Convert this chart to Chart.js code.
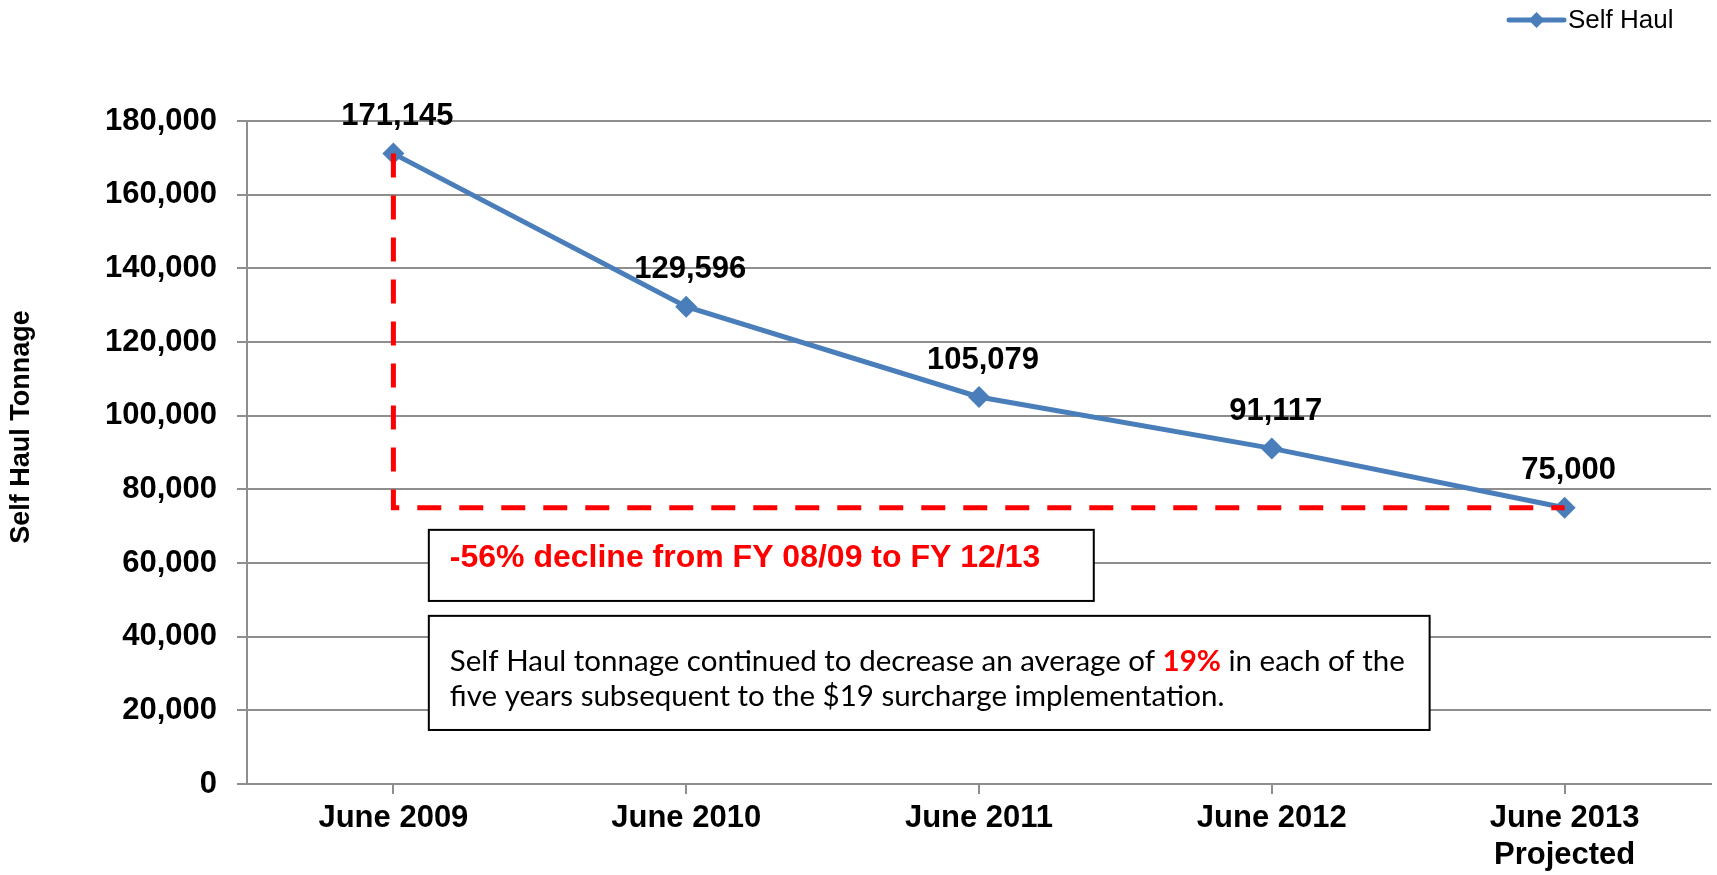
<!DOCTYPE html>
<html>
<head>
<meta charset="utf-8">
<script src="https://cdn.jsdelivr.net/npm/chart.js@4.4.1/dist/chart.umd.min.js"></script>
<style>
  html, body { margin: 0; padding: 0; background: #ffffff; }
  canvas { display: block; }
</style>
</head>
<body>
<canvas id="chart" width="1717" height="875"></canvas>
<script>
// ---- data ----
const categories = ['June 2009', 'June 2010', 'June 2011', 'June 2012', ['June 2013', 'Projected']];
const selfHaul = [171145, 129596, 105079, 91117, 75000];
const seriesName = 'Self Haul';
const yAxisTitle = 'Self Haul Tonnage';
const yMin = 0;
const yMax = 180000;
const yStep = 20000;
const declineText = '-56% decline from FY 08/09 to FY 12/13';
const noteLine1 = [
  { text: 'Self Haul tonnage continued to decrease an average of ', red: false },
  { text: '19%', red: true },
  { text: ' in each of the', red: false }
];
const noteLine2 = [
  { text: 'five years subsequent to the $19 surcharge implementation.', red: false }
];

// red bracket from the first value down to the last value level, across to the last point
const firstIdx = 0;
const lastIdx = selfHaul.length - 1;
const bracket = [
  { x: categories[firstIdx], y: selfHaul[firstIdx] },
  { x: categories[firstIdx], y: selfHaul[lastIdx] },
  { x: categories[lastIdx], y: selfHaul[lastIdx] }
];

// annotation boxes, in axis units (category index, tonnage)
const box1 = { x0: 0.121, x1: 2.392, yTop: 69000, yBot: 49700 };
const box2 = { x0: 0.121, x1: 3.539, yTop: 45650, yBot: 14670 };

const BLUE = '#4A7EBB';
const RED = '#FF0000';
const GRID = '#8e8e8e';
const FONT = "'Liberation Sans', Arial, sans-serif";

const fmt = v => v.toLocaleString('en-US');

const decorPlugin = {
  id: 'decor',
  afterDatasetsDraw(chart) {
    const ctx = chart.ctx;
    const meta = chart.getDatasetMeta(1);
    ctx.save();
    ctx.fillStyle = '#000';
    ctx.font = 'bold 31px ' + FONT;
    ctx.textAlign = 'center';
    ctx.textBaseline = 'middle';
    meta.data.forEach((pt, i) => {
      ctx.fillText(fmt(selfHaul[i]), pt.x + 4, pt.y - 37);
    });
    ctx.restore();
  },
  afterDraw(chart) {
    const ctx = chart.ctx;
    const xs = chart.scales.x, ys = chart.scales.y;
    const rect = b => {
      const l = xs.getPixelForValue(b.x0), r = xs.getPixelForValue(b.x1);
      const t = ys.getPixelForValue(b.yTop), bt = ys.getPixelForValue(b.yBot);
      return { l, r, t, b: bt };
    };
    ctx.save();
    // box 1
    const r1 = rect(box1);
    ctx.fillStyle = '#fff';
    ctx.fillRect(r1.l, r1.t, r1.r - r1.l, r1.b - r1.t);
    ctx.lineWidth = 2;
    ctx.strokeStyle = '#000';
    ctx.strokeRect(r1.l, r1.t, r1.r - r1.l, r1.b - r1.t);
    ctx.fillStyle = RED;
    ctx.font = 'bold 32px ' + FONT;
    ctx.textAlign = 'left';
    ctx.textBaseline = 'middle';
    ctx.fillText(declineText, r1.l + 21, (r1.t + r1.b) / 2 - 7);

    // box 2
    const r2 = rect(box2);
    ctx.fillStyle = '#fff';
    ctx.fillRect(r2.l, r2.t, r2.r - r2.l, r2.b - r2.t);
    ctx.strokeRect(r2.l, r2.t, r2.r - r2.l, r2.b - r2.t);
    const normFont = "28px Lato, 'Open Sans', sans-serif";
    const boldFont = "bold 28px Lato, 'Open Sans', sans-serif";
    const measure = segs => segs.reduce((w, s) => { ctx.font = s.red ? boldFont : normFont; return w + ctx.measureText(s.text).width; }, 0);
    const w1 = measure(noteLine1);
    const sx = 955 / w1;
    const drawLine = (segs, x, y) => {
      ctx.save();
      ctx.translate(x, y);
      ctx.scale(sx, 1);
      let cx = 0;
      segs.forEach(s => {
        ctx.font = s.red ? boldFont : normFont;
        ctx.fillStyle = s.red ? RED : '#000';
        ctx.fillText(s.text, cx, 0);
        cx += ctx.measureText(s.text).width;
      });
      ctx.restore();
    };
    ctx.textBaseline = 'middle';
    ctx.textAlign = 'left';
    drawLine(noteLine1, r2.l + 21, r2.t + 46);
    drawLine(noteLine2, r2.l + 21, r2.t + 81);

    // y axis title
    ctx.save();
    ctx.translate(22, 427);
    ctx.rotate(-Math.PI / 2);
    ctx.font = 'bold 27px ' + FONT;
    ctx.fillStyle = '#000';
    ctx.textAlign = 'center';
    ctx.textBaseline = 'middle';
    ctx.fillText(yAxisTitle, 0, 0);
    ctx.restore();

    // legend
    const lx0 = 1509, lx1 = 1564, ly = 20;
    ctx.strokeStyle = BLUE;
    ctx.lineWidth = 5;
    ctx.lineCap = 'round';
    ctx.beginPath();
    ctx.moveTo(lx0, ly);
    ctx.lineTo(lx1, ly);
    ctx.stroke();
    ctx.fillStyle = BLUE;
    ctx.beginPath();
    const lc = (lx0 + lx1) / 2, d = 8;
    ctx.moveTo(lc, ly - d); ctx.lineTo(lc + d, ly); ctx.lineTo(lc, ly + d); ctx.lineTo(lc - d, ly);
    ctx.closePath();
    ctx.fill();
    ctx.fillStyle = '#000';
    ctx.font = '26px ' + FONT;
    ctx.textAlign = 'left';
    ctx.textBaseline = 'middle';
    ctx.fillText(seriesName, 1568, ly + 1);
    ctx.restore();
  }
};

new Chart(document.getElementById('chart'), {
  type: 'line',
  data: {
    labels: categories,
    datasets: [
      {
        label: 'bracket',
        data: bracket,
        borderColor: RED,
        borderWidth: 5,
        borderDash: [24, 18],
        pointRadius: 0,
        fill: false,
        tension: 0,
        order: 0
      },
      {
        label: seriesName,
        data: selfHaul,
        borderColor: BLUE,
        backgroundColor: BLUE,
        borderWidth: 5,
        pointStyle: 'rectRot',
        pointRadius: 11,
        pointHoverRadius: 11,
        pointBackgroundColor: BLUE,
        pointBorderColor: BLUE,
        pointBorderWidth: 0,
        fill: false,
        tension: 0,
        order: 1
      }
    ]
  },
  options: {
    responsive: false,
    animation: false,
    devicePixelRatio: 1,
    layout: { autoPadding: false, padding: { top: 121, right: 6, left: 0, bottom: 0 } },
    plugins: {
      legend: { display: false },
      tooltip: { enabled: false },
      title: { display: false }
    },
    scales: {
      x: {
        type: 'category',
        offset: true,
        grid: {
          offset: false,
          drawOnChartArea: false,
          drawTicks: true,
          tickLength: 10,
          color: GRID,
          lineWidth: 2
        },
        border: { color: GRID, width: 2 },
        ticks: {
          color: '#000',
          font: { family: FONT, size: 31, weight: 'bold', lineHeight: 1.2 },
          padding: 6,
          maxRotation: 0,
          autoSkip: false
        },
        afterFit(scale) { scale.height = 91; scale.paddingLeft = 0; scale.paddingRight = 0; }
      },
      y: {
        min: yMin,
        max: yMax,
        ticks: {
          stepSize: yStep,
          color: '#000',
          font: { family: FONT, size: 31, weight: 'bold' },
          padding: 20,
          callback: v => fmt(v)
        },
        grid: {
          color: GRID,
          lineWidth: 2,
          tickLength: 10
        },
        border: { color: GRID, width: 2 },
        afterFit(scale) { scale.width = 247; scale.paddingTop = 0; scale.paddingBottom = 0; }
      }
    }
  },
  plugins: [decorPlugin]
});
</script>
</body>
</html>
